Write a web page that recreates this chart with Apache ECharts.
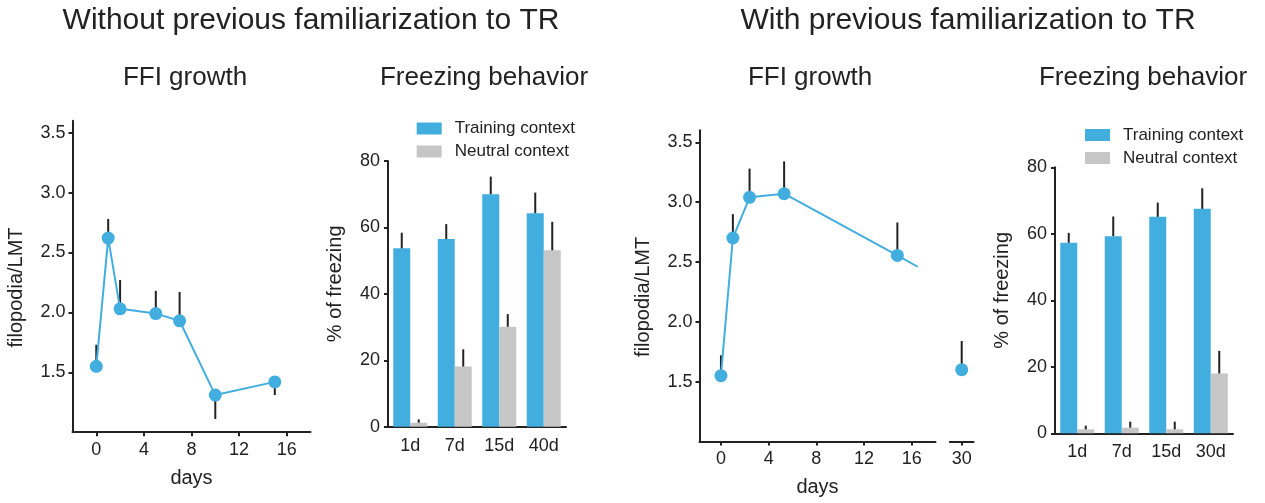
<!DOCTYPE html>
<html><head><meta charset="utf-8">
<script src="https://cdn.jsdelivr.net/npm/echarts@6/dist/echarts.min.js"></script>
<style>html,body{margin:0;padding:0;background:#fff}#c{width:1265px;height:503px}</style>
</head><body><div id="c"></div>
<script>
// ---------- data ----------
const mainTitles = ['Without previous familiarization to TR', 'With previous familiarization to TR'];
const panelTitles = ['FFI growth', 'Freezing behavior', 'FFI growth', 'Freezing behavior'];
const seriesNames = ['Training context', 'Neutral context'];

// Panel 1: FFI growth without familiarization
const ffiDaysA = [0, 1, 2, 5, 7, 10, 15];
const ffiMeanA = [1.55, 2.62, 2.03, 1.99, 1.93, 1.31, 1.42];
const ffiErrEndA = [1.73, 2.78, 2.27, 2.18, 2.17, 1.11, 1.31];

// Panel 2: freezing without familiarization
const catsA = ['1d', '7d', '15d', '40d'];
const trainA = [53.7, 56.5, 70.0, 64.3];
const trainErrEndA = [58.4, 61.0, 75.3, 70.5];
const neutralA = [1.2, 18.1, 30.1, 53.1];
const neutralErrEndA = [2.2, 23.3, 33.9, 61.7];

// Panel 3: FFI growth with familiarization
const ffiDaysB = [0, 1, 2.4, 5.3, 14.8];
const ffiMeanB = [1.55, 2.70, 3.04, 3.07, 2.555];
const ffiErrEndB = [1.72, 2.90, 3.28, 3.34, 2.83];
const ffiLineEndB = [16.5, 2.46];   // line continues toward the axis break
const ffiDay30 = [30];
const ffiMean30 = [1.60];
const ffiErrEnd30 = [1.84];

// Panel 4: freezing with familiarization
const catsB = ['1d', '7d', '15d', '30d'];
const trainB = [57.3, 59.3, 65.1, 67.5];
const trainErrEndB = [60.3, 65.2, 69.4, 73.7];
const neutralB = [1.2, 1.7, 1.2, 18.0];
const neutralErrEndB = [2.3, 3.5, 3.5, 24.8];

const ffiTicksY = [1.5, 2.0, 2.5, 3.0, 3.5];
const dayTicks = [0, 4, 8, 12, 16];

// ---------- styles ----------
const FONT = '"Liberation Sans", Arial, Helvetica, sans-serif';
const BLUE = '#42AEDF';
const GRAY = '#C6C6C6';
const INK = '#222222';
const BARW = 17;

const zip = (a, b) => a.map((v, i) => [v, b[i]]);
const zip3 = (a, b, c) => a.map((v, i) => [v, b[i], c[i]]);

function errRender(offset) {
  return function (params, api) {
    const p0 = api.coord([api.value(0), api.value(1)]);
    const p1 = api.coord([api.value(0), api.value(2)]);
    return { type: 'line', shape: { x1: p0[0] + offset, y1: p0[1], x2: p1[0] + offset, y2: p1[1] },
      style: { stroke: INK, lineWidth: 2 } };
  };
}

const axisLine = { show: true, onZero: false, lineStyle: { color: INK, width: 2 } };
const tickStyle = { show: true, length: 4, lineStyle: { color: INK, width: 2 } };
const labelStyle = { color: INK, fontSize: 18, fontFamily: FONT };
const nameStyle = { color: INK, fontSize: 20, fontFamily: FONT };

function ffiX(grid, min, max, ticks, name) {
  return { type: 'value', gridIndex: grid, min: min, max: max,
    axisLine: axisLine, splitLine: { show: false },
    axisTick: Object.assign({ customValues: ticks }, tickStyle),
    axisLabel: Object.assign({ customValues: ticks, margin: 9 }, labelStyle),
    name: name, nameLocation: 'middle', nameGap: 36, nameTextStyle: nameStyle };
}
function ffiY(grid, show, pad) {
  return { type: 'value', gridIndex: grid, min: 1.0, max: 3.6, show: show,
    axisLine: axisLine, splitLine: { show: false },
    axisTick: Object.assign({ customValues: ffiTicksY }, tickStyle),
    axisLabel: Object.assign({ customValues: ffiTicksY, margin: 7, formatter: v => v.toFixed(1) }, labelStyle),
    name: show ? 'filopodia/LMT' : '', nameLocation: 'middle', nameGap: 46,
    nameTextStyle: Object.assign({ padding: pad }, nameStyle) };
}
function catX(grid, cats) {
  return { type: 'category', gridIndex: grid, data: cats,
    axisLine: axisLine, axisTick: { show: false },
    axisLabel: Object.assign({ margin: 10 }, labelStyle) };
}
function pctY(grid, gap) {
  return { type: 'value', gridIndex: grid, min: 0, max: 80, interval: 20,
    axisLine: axisLine, splitLine: { show: false }, axisTick: tickStyle,
    axisLabel: Object.assign({ margin: 8 }, labelStyle),
    name: '% of freezing', nameLocation: 'middle', nameGap: gap,
    nameTextStyle: Object.assign({ padding: [0, 0, 0, 20] }, nameStyle) };
}
function legendAt(left, top) {
  return { left: left, top: top, orient: 'vertical', padding: 0, data: seriesNames,
    itemWidth: 25, itemHeight: 12, itemGap: 6, icon: 'rect', selectedMode: false,
    textStyle: { fontSize: 17, color: INK, fontFamily: FONT, padding: [0, 0, 0, 8] } };
}
function textAt(x, y, str, size) {
  return { type: 'text', x: x, y: y, silent: true,
    style: { text: str, fill: INK, font: size + 'px ' + FONT, textAlign: 'center', textVerticalAlign: 'middle' } };
}

const lineDataB = zip(ffiDaysB, ffiMeanB);
lineDataB.push({ value: ffiLineEndB, symbol: 'none' });

const option = {
  animation: false,
  textStyle: { fontFamily: FONT },
  graphic: [
    textAt(311, 21, mainTitles[0], 30),
    textAt(968, 21, mainTitles[1], 30),
    textAt(185, 78, panelTitles[0], 26),
    textAt(484, 78, panelTitles[1], 26),
    textAt(810, 78, panelTitles[2], 26),
    textAt(1143, 78, panelTitles[3], 26)
  ],
  legend: [legendAt(416.7, 120), legendAt(1085, 126.5)],
  grid: [
    { left: 72.5, top: 120.7, width: 238, height: 311.5 },
    { left: 388, top: 161, width: 178, height: 265.7 },
    { left: 699.5, top: 130.3, width: 236, height: 311.2 },
    { left: 949.8, top: 130.3, width: 23.8, height: 311.2 },
    { left: 1055, top: 167.3, width: 178, height: 266 }
  ],
  xAxis: [
    ffiX(0, -2, 18, dayTicks, 'days'),
    catX(1, catsA),
    ffiX(2, -1.8, 18, dayTicks, 'days'),
    ffiX(3, 29, 31, ffiDay30, ''),
    catX(4, catsB)
  ],
  yAxis: [
    ffiY(0, true, [0, 22, 0, 0]),
    pctY(1, 43),
    ffiY(2, true, [0, 22, 0, 0]),
    ffiY(3, false, 0),
    pctY(4, 43)
  ],
  series: [
    // panel 1
    { type: 'custom', xAxisIndex: 0, yAxisIndex: 0, z: 1, renderItem: errRender(0), data: zip3(ffiDaysA, ffiMeanA, ffiErrEndA) },
    { type: 'line', xAxisIndex: 0, yAxisIndex: 0, z: 3, data: zip(ffiDaysA, ffiMeanA), symbol: 'circle', symbolSize: 13,
      lineStyle: { color: BLUE, width: 2 }, itemStyle: { color: BLUE } },
    // panel 2
    { name: seriesNames[0], type: 'bar', xAxisIndex: 1, yAxisIndex: 1, data: trainA, barWidth: BARW, barGap: '0%', itemStyle: { color: BLUE } },
    { name: seriesNames[1], type: 'bar', xAxisIndex: 1, yAxisIndex: 1, data: neutralA, barWidth: BARW, barGap: '0%', itemStyle: { color: GRAY } },
    { type: 'custom', xAxisIndex: 1, yAxisIndex: 1, z: 4, renderItem: errRender(-BARW / 2), data: zip3(catsA.map((c, i) => i), trainA, trainErrEndA) },
    { type: 'custom', xAxisIndex: 1, yAxisIndex: 1, z: 4, renderItem: errRender(BARW / 2), data: zip3(catsA.map((c, i) => i), neutralA, neutralErrEndA) },
    // panel 3
    { type: 'custom', xAxisIndex: 2, yAxisIndex: 2, z: 1, renderItem: errRender(0), data: zip3(ffiDaysB, ffiMeanB, ffiErrEndB) },
    { type: 'line', xAxisIndex: 2, yAxisIndex: 2, z: 3, data: lineDataB, symbol: 'circle', symbolSize: 13,
      lineStyle: { color: BLUE, width: 2 }, itemStyle: { color: BLUE } },
    { type: 'custom', xAxisIndex: 3, yAxisIndex: 3, z: 1, renderItem: errRender(0), data: zip3(ffiDay30, ffiMean30, ffiErrEnd30) },
    { type: 'scatter', xAxisIndex: 3, yAxisIndex: 3, z: 3, data: zip(ffiDay30, ffiMean30), symbol: 'circle', symbolSize: 13,
      itemStyle: { color: BLUE, opacity: 1 } },
    // panel 4
    { name: seriesNames[0], type: 'bar', xAxisIndex: 4, yAxisIndex: 4, data: trainB, barWidth: BARW, barGap: '0%', itemStyle: { color: BLUE } },
    { name: seriesNames[1], type: 'bar', xAxisIndex: 4, yAxisIndex: 4, data: neutralB, barWidth: BARW, barGap: '0%', itemStyle: { color: GRAY } },
    { type: 'custom', xAxisIndex: 4, yAxisIndex: 4, z: 4, renderItem: errRender(-BARW / 2), data: zip3(catsB.map((c, i) => i), trainB, trainErrEndB) },
    { type: 'custom', xAxisIndex: 4, yAxisIndex: 4, z: 4, renderItem: errRender(BARW / 2), data: zip3(catsB.map((c, i) => i), neutralB, neutralErrEndB) }
  ]
};
const chart = echarts.init(document.getElementById('c'), null, { renderer: 'canvas' });
chart.setOption(option);
</script>
</body></html>
